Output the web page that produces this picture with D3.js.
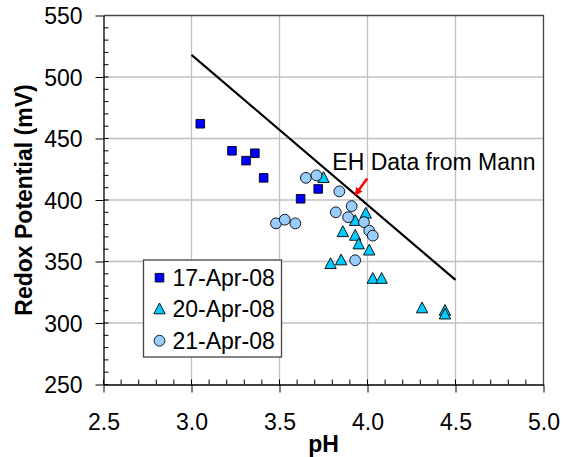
<!DOCTYPE html>
<html>
<head>
<meta charset="utf-8">
<script src="https://cdn.jsdelivr.net/npm/d3@7"></script>
<style>
  body { margin: 0; background: #fff; }
  svg { font-family: Arial, "Liberation Sans", sans-serif; }
</style>
</head>
<body>
<svg width="565" height="457"></svg>
<script>
// 17-Apr-08
const apr17PH = [3.05, 3.23, 3.31, 3.36, 3.41, 3.62, 3.72]
const apr17EH = [462, 440, 432, 438, 418, 401, 409]
// 20-Apr-08
const apr20PH = [3.75, 3.99, 3.93, 3.86, 3.93, 3.95, 4.01, 3.79, 3.85, 4.03, 4.08, 4.31, 4.44, 4.44]
const apr20EH = [418, 389, 383, 374, 371, 364, 359, 348, 351, 336, 336, 312, 310, 307]
// 21-Apr-08
const apr21PH = [3.48, 3.53, 3.59, 3.65, 3.71, 3.84, 3.82, 3.91, 3.89, 3.98, 4.01, 4.03, 3.93]
const apr21EH = [381, 384, 381, 418, 420, 407, 390, 395, 386, 382, 375, 371, 351]
// EH line from Mann
const mannPH = [3.0, 4.5]
const mannEH = [518, 335]

const seriesNames = ['17-Apr-08', '20-Apr-08', '21-Apr-08']
const xTicks = [2.5, 3.0, 3.5, 4.0, 4.5, 5.0]
const yTicks = [250, 300, 350, 400, 450, 500, 550]

const svg = d3.select('svg')
const plotL = 103.5, plotR = 543.5, plotT = 15.5, plotB = 384.5

const x = d3.scaleLinear().domain([2.5, 5.0]).range([plotL, plotR])
const y = d3.scaleLinear().domain([250, 550]).range([plotB, plotT])

const fontSize = 23

// gridlines
svg.append('g').selectAll('line')
  .data(xTicks.slice(1, -1))
  .enter().append('line')
  .attr('x1', d => x(d)).attr('x2', d => x(d))
  .attr('y1', plotT).attr('y2', plotB)
  .attr('stroke', '#c0c0c0').attr('stroke-width', 1.3)

svg.append('g').selectAll('line')
  .data(yTicks.slice(1, -1))
  .enter().append('line')
  .attr('x1', plotL).attr('x2', plotR)
  .attr('y1', d => y(d)).attr('y2', d => y(d))
  .attr('stroke', '#c0c0c0').attr('stroke-width', 1.3)

// plot border top / right
svg.append('path')
  .attr('d', `M${plotL},${plotT}H${plotR}V${plotB}`)
  .attr('fill', 'none')
  .attr('stroke', '#444').attr('stroke-width', 1.3)

// minor ticks (inside)
svg.append('g').selectAll('line')
  .data(d3.range(25, 50).map(v => v / 10))
  .enter().append('line')
  .attr('x1', d => x(d)).attr('x2', d => x(d))
  .attr('y1', plotB).attr('y2', plotB - 5)
  .attr('stroke', '#000')

svg.append('g').selectAll('line')
  .data(d3.range(250, 550, 10))
  .enter().append('line')
  .attr('x1', plotL).attr('x2', plotL + 5)
  .attr('y1', d => y(d)).attr('y2', d => y(d))
  .attr('stroke', '#000')

const axisX = d3.axisBottom(x)
  .tickValues(xTicks)
  .tickFormat(d3.format('.1f'))
  .tickSizeInner(8)
  .tickSizeOuter(0)

const axisXGroup = svg.append('g')
  .attr('transform', `translate(0, ${plotB})`)
  .call(axisX)
axisXGroup.selectAll('text')
  .attr('y', 45.5).attr('dy', 0)
  .attr('font-size', fontSize).attr('fill', '#000')

const axisY = d3.axisLeft(y)
  .tickValues(yTicks)
  .tickSizeInner(8)
  .tickSizeOuter(0)

const axisYGroup = svg.append('g')
  .attr('transform', `translate(${plotL}, 0)`)
  .call(axisY)
axisYGroup.selectAll('text')
  .attr('x', -21).attr('dy', '0.36em')
  .attr('font-size', fontSize).attr('fill', '#000')

svg.selectAll('.domain').attr('stroke', '#000').attr('stroke-width', 1.3)
svg.selectAll('.tick line').attr('stroke', '#000')

// axis titles
svg.append('text')
  .attr('x', (plotL + plotR) / 2)
  .attr('y', 452)
  .attr('text-anchor', 'middle')
  .attr('font-weight', 'bold')
  .attr('font-size', fontSize)
  .text('pH')

svg.append('text')
  .attr('transform', `translate(32, ${(plotT + plotB) / 2}) rotate(-90)`)
  .attr('text-anchor', 'middle')
  .attr('font-weight', 'bold')
  .attr('font-size', fontSize)
  .text('Redox Potential (mV)')

// markers
const squarePath = 'M-4.3,-4.3H4.3V4.3H-4.3Z'
const trianglePath = 'M0,-6.2L5.7,4.6L-5.7,4.6Z'
const markers = [
  { path: squarePath, fill: '#0000ff' },
  { path: trianglePath, fill: '#00ccff' },
  { path: null, fill: '#99ccff' }
]

function drawMarker(g, i) {
  const m = markers[i]
  if (m.path) {
    g.append('path').attr('d', m.path)
      .attr('fill', m.fill).attr('stroke', '#000').attr('stroke-width', 0.9)
  } else {
    g.append('circle').attr('r', 5.4)
      .attr('fill', m.fill).attr('stroke', '#000').attr('stroke-width', 0.9)
  }
}

const allSeries = [[apr17PH, apr17EH], [apr20PH, apr20EH], [apr21PH, apr21EH]]
allSeries.forEach(([xs, ys], i) => {
  svg.append('g').selectAll('g')
    .data(xs.map((v, j) => [v, ys[j]]))
    .enter().append('g')
    .attr('transform', d => `translate(${x(d[0])},${y(d[1])})`)
    .each(function() { drawMarker(d3.select(this), i) })
})

// Mann line
svg.append('path')
  .datum(mannPH.map((v, j) => [v, mannEH[j]]))
  .attr('d', d3.line().x(d => x(d[0])).y(d => y(d[1])))
  .attr('fill', 'none')
  .attr('stroke', '#000').attr('stroke-width', 2.2)

// annotation
svg.append('defs').append('marker')
  .attr('id', 'arrow')
  .attr('viewBox', '0 0 10 10')
  .attr('refX', 9).attr('refY', 5)
  .attr('markerWidth', 3.2).attr('markerHeight', 3.2)
  .attr('orient', 'auto')
  .append('path').attr('d', 'M0,0L10,5L0,10Z').attr('fill', '#ff0000')

svg.append('line')
  .attr('x1', x(3.998)).attr('y1', y(417.5))
  .attr('x2', x(3.93)).attr('y2', y(404))
  .attr('stroke', '#ff0000').attr('stroke-width', 2.5)
  .attr('marker-end', 'url(#arrow)')

svg.append('text')
  .attr('x', x(3.8)).attr('y', y(424))
  .attr('font-size', fontSize)
  .text('EH Data from Mann')

// legend
const legend = svg.append('g').attr('transform', 'translate(143.5, 260)')
legend.append('rect')
  .attr('width', 138).attr('height', 97)
  .attr('fill', '#fff').attr('stroke', '#444').attr('stroke-width', 1.3)

seriesNames.forEach((name, i) => {
  const row = legend.append('g').attr('transform', `translate(0, ${17.7 + i * 31.5})`)
  drawMarker(row.append('g').attr('transform', 'translate(16, 0)'), i)
  row.append('text')
    .attr('x', 29).attr('y', 8)
    .attr('font-size', fontSize)
    .text(name)
})
</script>
</body>
</html>
